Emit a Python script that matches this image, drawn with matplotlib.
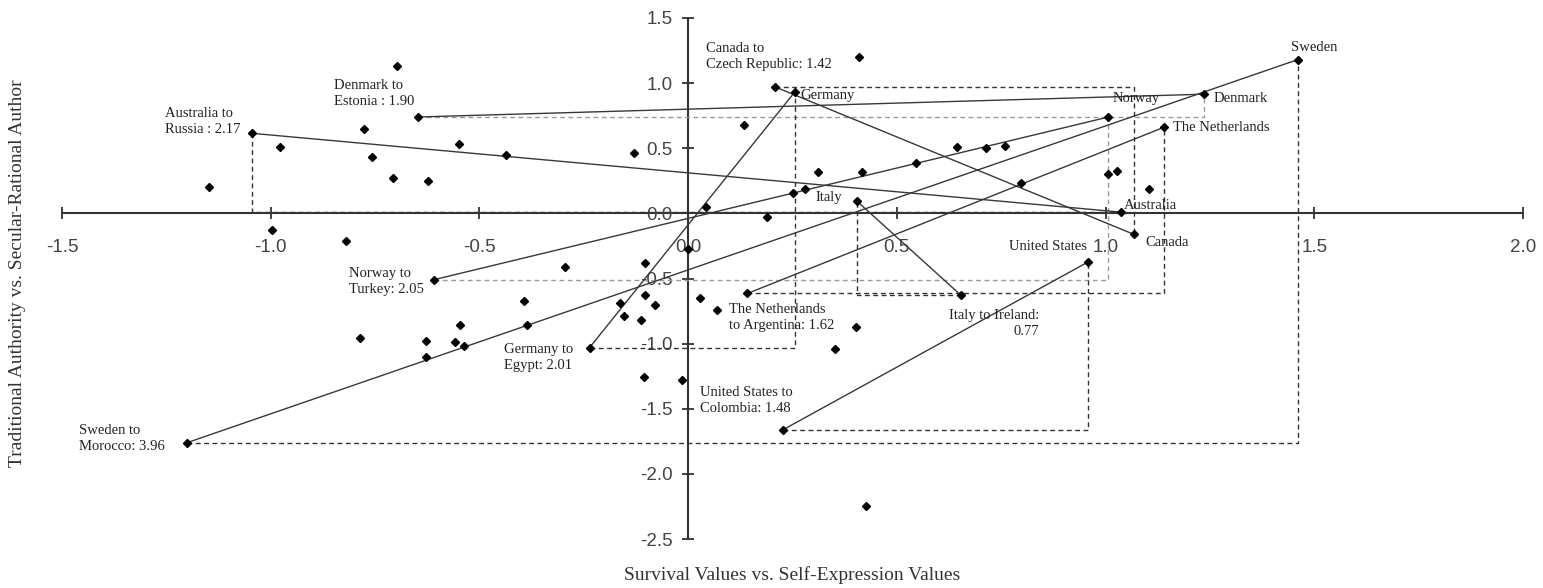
import numpy as np
import matplotlib
matplotlib.use("Agg")
import matplotlib.pyplot as plt

plt.rcParams['axes.unicode_minus'] = False

# migration pairs: destination country -> origin country, cultural distance
pair_from = ["Australia", "Denmark", "Canada", "Norway", "Germany",
             "Sweden", "The Netherlands", "Italy", "United States"]
pair_to = ["Russia", "Estonia", "Czech Republic", "Turkey", "Egypt",
           "Morocco", "Argentina", "Ireland", "Colombia"]
pair_dist = [2.17, 1.90, 1.42, 2.05, 2.01, 3.96, 1.62, 0.77, 1.48]
from_x = [1.036, 1.236, 1.067, 1.007, 0.255, 1.46, 1.139, 0.404, 0.957]
from_y = [0.01, 0.915, -0.16, 0.74, 0.93, 1.18, 0.66, 0.095, -0.375]
to_x = [-1.046, -0.647, 0.209, -0.61, -0.236, -1.2, 0.142, 0.654, 0.228]
to_y = [0.615, 0.74, 0.97, -0.51, -1.03, -1.76, -0.615, -0.63, -1.66]

# all the other countries on the map
other_x = [-0.697, -0.776, -0.978, -0.757, -0.548, -0.707, -0.623, -1.149,
           -0.998, -0.82, -0.4375, -0.13, 0.135, 0.41, 0.31, 0.416, 0.546,
           0.644, 0.714, 0.76, 0.798, 0.25, 0.279, 0.043, 0.188, 0.0,
           -0.296, -0.103, -0.394, -0.385, -0.163, -0.103, -0.079, -0.154,
           -0.113, 0.029, 0.07, 0.401, 0.351, -0.106, -0.014, 0.425,
           -0.786, -0.627, -0.546, -0.558, -0.536, -0.627, 1.005, 1.027,
           1.105]
other_y = [1.13, 0.65, 0.51, 0.43, 0.53, 0.27, 0.25, 0.2, -0.13, -0.215,
           0.446, 0.46, 0.68, 1.2, 0.315, 0.32, 0.39, 0.51, 0.5, 0.52, 0.23,
           0.155, 0.19, 0.05, -0.03, -0.27, -0.41, -0.38, -0.67, -0.855,
           -0.69, -0.63, -0.70, -0.785, -0.82, -0.65, -0.745, -0.87, -1.04,
           -1.26, -1.28, -2.245, -0.96, -0.98, -0.86, -0.99, -1.02, -1.1,
           0.305, 0.325, 0.19]

x_ticks = [-1.5, -1.0, -0.5, 0.0, 0.5, 1.0, 1.5, 2.0]
y_ticks = [-2.5, -2.0, -1.5, -1.0, -0.5, 0.0, 0.5, 1.0, 1.5]

serif = 'Liberation Serif'
sans = 'Liberation Sans'

fig = plt.figure(figsize=(15.43, 5.88), dpi=100)
ax = fig.add_axes([62 / 1543, 1 - 539 / 588, 1461 / 1543, 521 / 588])
ax.set_xlim(-1.5, 2.0)
ax.set_ylim(-2.5, 1.5)

# dashed right-angle guides (Australia-Russia turns the other way)
guide_col = ['#333333', '#9a9a9a', '#333333', '#9a9a9a', '#333333',
             '#333333', '#333333', '#333333', '#333333']
for i in range(len(pair_from)):
    if i == 0:
        cx, cy = to_x[i], from_y[i]
    else:
        cx, cy = from_x[i], to_y[i]
    ax.plot([to_x[i], cx, from_x[i]], [to_y[i], cy, from_y[i]],
            ls=(0, (3.5, 2.5)), lw=1.0, color=guide_col[i], zorder=2)

# solid connecting lines
for i in range(len(pair_from)):
    ax.plot([from_x[i], to_x[i]], [from_y[i], to_y[i]],
            color='#383838', lw=1.0, zorder=3)

ax.plot(other_x, other_y, 'D', color='black', ms=4.5, ls='none', zorder=4)
ax.plot(from_x, from_y, 'D', color='black', ms=4.5, ls='none', zorder=4)
ax.plot(to_x, to_y, 'D', color='black', ms=4.5, ls='none', zorder=4)

# axes crossing at the origin
for s in ['top', 'right']:
    ax.spines[s].set_visible(False)
ax.spines['left'].set_position(('data', 0))
ax.spines['bottom'].set_position(('data', 0))
for s in ['left', 'bottom']:
    ax.spines[s].set_color('#333333')
    ax.spines[s].set_linewidth(1.5)
    ax.spines[s].set_zorder(1)

ax.set_xticks(x_ticks)
ax.set_xticklabels(['%.1f' % v for v in x_ticks])
ax.set_yticks(y_ticks)
ax.set_yticklabels(['%.1f' % v for v in y_ticks])
ax.tick_params(direction='inout', length=8.6, width=1.3, colors='#333333',
               labelsize=13.5)
ax.tick_params(axis='x', pad=14)
ax.tick_params(axis='y', pad=7)
for lab in ax.get_xticklabels() + ax.get_yticklabels():
    lab.set_family(sans)
    lab.set_color('#444444')

# pair labels
pair_text = [
    ("Australia to\nRussia : %.2f", -1.253, 0.814, 'left'),
    ("Denmark to\nEstonia : %.2f", -0.848, 1.029, 'left'),
    ("Canada to\nCzech Republic: %.2f", 0.043, 1.313, 'left'),
    ("Norway to\nTurkey: %.2f", -0.812, -0.415, 'left'),
    ("Germany to\nEgypt: %.2f", -0.441, -0.998, 'left'),
    ("Sweden to\nMorocco: %.2f", -1.459, -1.62, 'left'),
    ("The Netherlands\nto Argentina: %.2f", 0.098, -0.691, 'left'),
    ("Italy to Ireland:\n%.2f", 0.841, -0.737, 'right'),
    ("United States to\nColombia: %.2f", 0.029, -1.328, 'left'),
]
for i, (fmt, tx, ty, ha) in enumerate(pair_text):
    ax.text(tx, ty, fmt % pair_dist[i], ha=ha, va='top', ma=ha,
            family=serif, fontsize=10.5, color='#222222',
            linespacing=1.3, zorder=5)

name_pos = [
    (1.045, 0.061, 'left'),
    (1.258, 0.883, 'left'),
    (1.095, -0.223, 'left'),
    (1.016, 0.883, 'left'),
    (0.268, 0.906, 'left'),
    (1.445, 1.274, 'left'),
    (1.162, 0.66, 'left'),
    (0.304, 0.123, 'left'),
    (0.956, -0.253, 'right'),
]
for i, (tx, ty, ha) in enumerate(name_pos):
    ax.text(tx, ty, pair_from[i], ha=ha, va='center', family=serif,
            fontsize=10.5, color='#222222', zorder=5)

fig.text(792 / 1543, 1 - 575 / 588,
         "Survival Values vs. Self-Expression Values",
         ha='center', va='center', family=serif, fontsize=14,
         color='#333333')
fig.text(18 / 1543, 1 - 467 / 588,
         "Traditional Authority vs. Secular-Rational Author",
         ha='center', va='bottom', rotation=90, family=serif, fontsize=14,
         color='#333333')

fig.savefig("out.png", dpi=100)
